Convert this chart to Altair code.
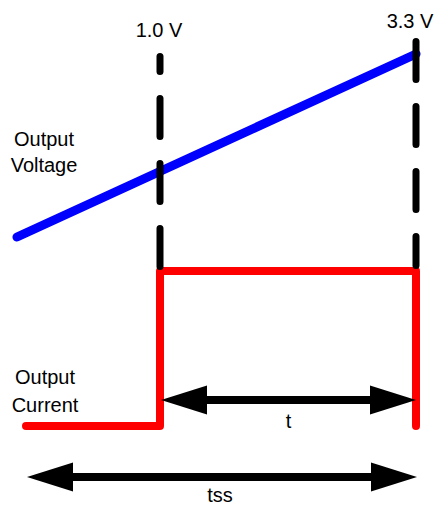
import altair as alt
import pandas as pd

# Diagram coordinates (drawing units: x to the right, y downward)
volt_x = [17, 416]
volt_y = [237, 54]

cur_x = [26, 160, 160, 416, 416]
cur_y = [426, 426, 271, 271, 426]

marker_x = [160, 416]
marker_y_top = [56.5, 41.5]
marker_y_bot = [266.5, 265.5]
marker_label = ["1.0 V", "3.3 V"]
marker_label_x = [159, 410]
marker_label_y = [37, 28]

arrow_y = [400, 477]
arrow_left_tip = [161, 27]
arrow_right_tip = [416, 417]
arrow_label = ["t", "tss"]
arrow_label_x = [288.5, 220]
arrow_label_y = [428, 502]

side_text = ["Output", "Voltage", "Output", "Current"]
side_x = [44, 44, 45, 45]
side_y = [146, 172, 384, 412]

FONT = "Liberation Sans"
FS = 20

X = alt.Scale(domain=[8, 436], nice=False, zero=False)
Y = alt.Scale(domain=[8, 507], nice=False, zero=False, reverse=True)

def xe(f):
    return alt.X(f, type="quantitative", scale=X, axis=None)

def ye(f):
    return alt.Y(f, type="quantitative", scale=Y, axis=None)

volt = pd.DataFrame({"x": volt_x, "y": volt_y, "o": range(len(volt_x))})
cur = pd.DataFrame({"x": cur_x, "y": cur_y, "o": range(len(cur_x))})

blue = alt.Chart(volt).mark_line(color="#0000ff", strokeWidth=9, strokeCap="round").encode(
    x=xe("x"), y=ye("y"), order="o:Q")
red = alt.Chart(cur).mark_line(color="#ff0000", strokeWidth=8, strokeCap="round", strokeJoin="round").encode(
    x=xe("x"), y=ye("y"), order="o:Q")

dash_layers = []
for i, off in enumerate([23, 0]):
    d = pd.DataFrame({"x": [marker_x[i]], "y": [marker_y_top[i]], "y2": [marker_y_bot[i]]})
    dash_layers.append(
        alt.Chart(d).mark_rule(color="black", strokeWidth=7, strokeCap="round",
                               strokeDash=[38, 27], strokeDashOffset=off).encode(
            x=xe("x"), y=ye("y"), y2="y2:Q"))

mlab = pd.DataFrame({"x": marker_label_x, "y": marker_label_y, "t": marker_label})
mtext = alt.Chart(mlab).mark_text(font=FONT, fontSize=FS, align="center", baseline="alphabetic", color="black").encode(
    x=xe("x"), y=ye("y"), text="t:N")

shaft = pd.DataFrame({"x": [a + 20 for a in arrow_left_tip], "x2": [b - 20 for b in arrow_right_tip], "y": arrow_y})
shafts = alt.Chart(shaft).mark_rule(color="black", strokeWidth=8, strokeCap="butt").encode(
    x=xe("x"), x2="x2:Q", y=ye("y"))

lh = pd.DataFrame({"x": arrow_left_tip, "y": arrow_y})
rh = pd.DataFrame({"x": arrow_right_tip, "y": arrow_y})
left_heads = alt.Chart(lh).mark_point(shape="M 0 0 L 2 -0.63 L 2 0.63 Z", size=2116, filled=True,
                                      color="black", opacity=1, strokeWidth=0).encode(x=xe("x"), y=ye("y"))
right_heads = alt.Chart(rh).mark_point(shape="M 0 0 L -2 -0.63 L -2 0.63 Z", size=2116, filled=True,
                                       color="black", opacity=1, strokeWidth=0).encode(x=xe("x"), y=ye("y"))

alab = pd.DataFrame({"x": arrow_label_x, "y": arrow_label_y, "t": arrow_label})
atext = alt.Chart(alab).mark_text(font=FONT, fontSize=FS, align="center", baseline="alphabetic", color="black").encode(
    x=xe("x"), y=ye("y"), text="t:N")

slab = pd.DataFrame({"x": side_x, "y": side_y, "t": side_text})
stext = alt.Chart(slab).mark_text(font=FONT, fontSize=FS, align="center", baseline="alphabetic", color="black").encode(
    x=xe("x"), y=ye("y"), text="t:N")

chart = alt.layer(blue, red, *dash_layers, mtext, shafts, left_heads, right_heads, atext, stext).properties(
    width=428, height=499, padding=0,
    autosize=alt.AutoSizeParams(type="none"),
    background="white",
).configure_view(stroke=None)

chart.save("out.html", embed_options={"renderer": "svg", "actions": False})
